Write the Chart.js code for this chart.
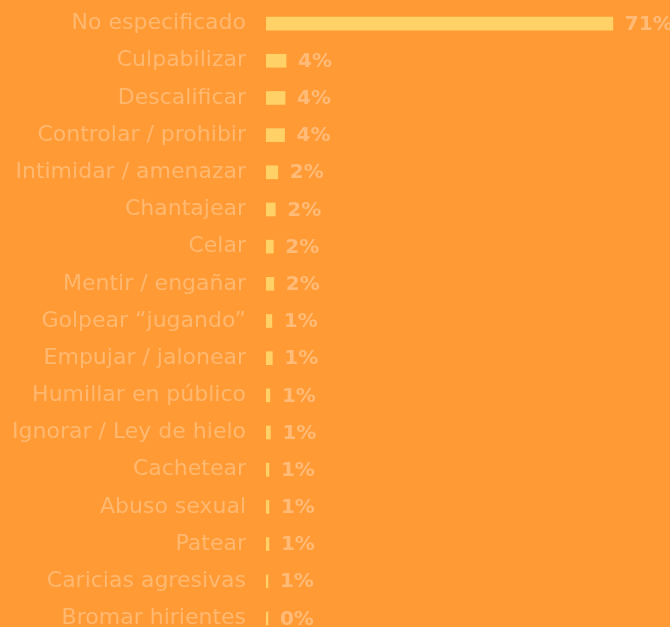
<!DOCTYPE html>
<html>
<head>
<meta charset="utf-8">
<script src="https://cdn.jsdelivr.net/npm/chart.js@4"></script>
<style>
  html, body { margin: 0; padding: 0; background: #FF9A35; overflow: hidden; }
  canvas { display: block; }
</style>
</head>
<body>
<canvas id="chart" width="670" height="640"></canvas>
<script>
const categories = ['No especificado', 'Culpabilizar', 'Descalificar', 'Controlar / prohibir',
  'Intimidar / amenazar', 'Chantajear', 'Celar', 'Mentir / engañar', 'Golpear “jugando”',
  'Empujar / jalonear', 'Humillar en público', 'Ignorar / Ley de hielo', 'Cachetear',
  'Abuso sexual', 'Patear', 'Caricias agresivas', 'Bromar hirientes'];
const values = [71, 4.1, 3.9, 3.8, 2.4, 1.9, 1.5, 1.6, 1.2, 1.3, 0.8, 0.9, 0.6, 0.6, 0.6, 0.4, 0.4];
const valueLabels = ['71%', '4%', '4%', '4%', '2%', '2%', '2%', '2%', '1%', '1%', '1%', '1%', '1%', '1%', '1%', '1%', '0%'];

const labelColor = '#FFB870';
const barColor = '#FFD166';

// draws the percentage next to the end of each bar
const endLabels = {
  id: 'endLabels',
  afterDatasetsDraw(chart) {
    const ctx = chart.ctx;
    const meta = chart.getDatasetMeta(0);
    ctx.save();
    ctx.font = 'bold 20px "DejaVu Sans"';
    ctx.fillStyle = '#FFBB77';
    ctx.textBaseline = 'middle';
    ctx.textAlign = 'left';
    meta.data.forEach((bar, i) => {
      ctx.fillText(valueLabels[i], bar.x + 12, bar.y + 1);
    });
    ctx.restore();
  }
};

new Chart(document.getElementById('chart'), {
  type: 'bar',
  data: {
    labels: categories,
    datasets: [{
      data: values,
      backgroundColor: barColor,
      barThickness: 13
    }]
  },
  options: {
    indexAxis: 'y',
    responsive: false,
    animation: false,
    layout: { padding: { top: 5, bottom: 3, left: 0, right: 0 } },
    plugins: { legend: { display: false }, tooltip: { enabled: false } },
    scales: {
      x: { display: false, min: 0, max: 82.7 },
      y: {
        grid: { display: false },
        border: { display: false },
        afterFit(scale) {
          scale.width = 266;
          scale.paddingTop = 0;
          scale.paddingBottom = 0;
        },
        ticks: {
          color: labelColor,
          padding: 12,
          autoSkip: false,
          font: { family: '"DejaVu Sans"', size: 22 }
        }
      }
    }
  },
  plugins: [endLabels]
});
</script>
</body>
</html>
